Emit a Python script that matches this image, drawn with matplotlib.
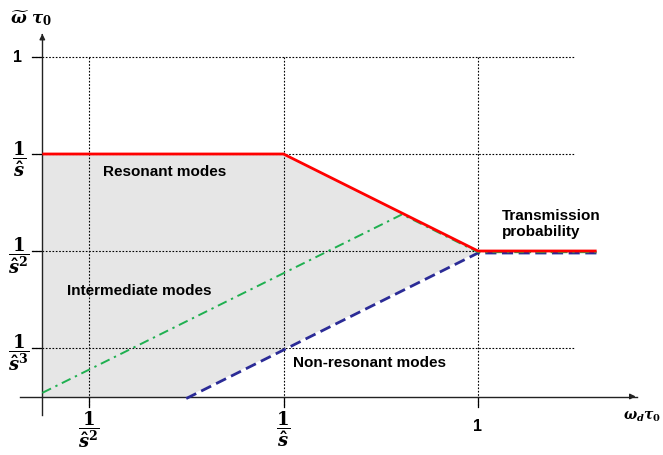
import numpy as np
import matplotlib
matplotlib.use("Agg")
import matplotlib.pyplot as plt
import matplotlib.transforms as mtransforms

plt.rcParams['mathtext.fontset'] = 'custom'
plt.rcParams['mathtext.rm'] = 'DejaVu Serif:bold'
plt.rcParams['mathtext.it'] = 'DejaVu Serif:bold:italic'
plt.rcParams['mathtext.bf'] = 'DejaVu Serif:bold'
plt.rcParams['font.family'] = ['Liberation Sans', 'DejaVu Sans']

# ---- data (log_s units: 1 -> 0, 1/s -> -1, 1/s^2 -> -2, ...) ----
x_tick_pos = [-2, -1, 0]
x_tick_labels = [r'$\dfrac{1}{\hat{s}^2}$', r'$\dfrac{1}{\hat{s}}$', '1']
y_tick_pos = [-3, -2, -1, 0]
y_tick_labels = [r'$\dfrac{1}{\hat{s}^3}$', r'$\dfrac{1}{\hat{s}^2}$', r'$\dfrac{1}{\hat{s}}$', '1']

red_x = [-2.24, -1.0, 0.0, 0.61]
red_y = [-1.0, -1.0, -2.0, -2.0]
green_x = [-2.24, -0.39, 0.0, 0.61]
green_y = [-3.45, -1.61, -2.0, -2.0]
blue_x = [-1.5, 0.0, 0.61]
blue_y = [-3.5, -2.0, -2.0]

region_labels = ['Resonant modes', 'Intermediate modes', 'Non-resonant modes', 'Transmission\nprobability']
region_x = [-1.928, -2.113, -0.951, 0.123]
region_y = [-1.19, -2.41, -3.15, -1.72]

x_axis_level = -3.5
y_axis_pos = -2.24

# ---- figure ----
fig = plt.figure(figsize=(6.63, 4.55), dpi=100)
ax = fig.add_axes([0, 0, 1, 1])
ax.set_xlim(-478 / 194.5, (663 - 478) / 194.5)
ax.set_ylim(-(455 - 57) / 97, 57 / 97)
ax.axis('off')

# gray region
xs = np.linspace(y_axis_pos, 0, 400)
top = np.interp(xs, red_x, red_y)
bot = np.maximum(np.interp(xs, blue_x, blue_y, left=x_axis_level), x_axis_level)
ax.fill_between(xs, bot, top, color='#e6e6e6', lw=0, zorder=1)

# grid lines (dotted)
for yp in y_tick_pos:
    ax.plot([-2.293, 0.499], [yp, yp], color='black', lw=0.8, ls=(0, (1.5, 1.5)), zorder=2)
    ax.plot([-2.293, y_axis_pos], [yp, yp], color='black', lw=0.9, zorder=2)
for xp in x_tick_pos:
    ax.plot([xp, xp], [0, -3.608], color='black', lw=0.8, ls=(0, (1.5, 1.5)), zorder=2)
    ax.plot([xp, xp], [x_axis_level, -3.608], color='black', lw=0.9, zorder=2)

# axes with arrows
ax.plot([-2.355, 0.82], [x_axis_level, x_axis_level], color='#222222', lw=1.0, zorder=3)
ax.annotate('', xy=(0.825, x_axis_level), xytext=(0.78, x_axis_level),
            arrowprops=dict(arrowstyle='-|>', color='#222222', lw=1.0, mutation_scale=8))
ax.plot([y_axis_pos, y_axis_pos], [-3.69, 0.22], color='#222222', lw=1.0, zorder=3)
ax.annotate('', xy=(y_axis_pos, 0.268), xytext=(y_axis_pos, 0.2),
            arrowprops=dict(arrowstyle='-|>', color='#222222', lw=1.0, mutation_scale=8))

# curves
off_g = mtransforms.offset_copy(ax.transData, fig=fig, x=0, y=-1.2, units='dots')
off_b = mtransforms.offset_copy(ax.transData, fig=fig, x=0, y=-2.0, units='dots')
ax.plot(blue_x, blue_y, color='#2b2b96', lw=2.0, ls=(0, (4, 2)), transform=off_b, zorder=4)
ax.plot(green_x, green_y, color='#1fb050', lw=1.4, ls=(0, (5, 2.5, 1.2, 2.5)), transform=off_g, zorder=5)
ax.plot(red_x, red_y, color='#ff0000', lw=2.0, zorder=6, solid_capstyle='butt')

# tick labels
for yp, lab in zip(y_tick_pos, y_tick_labels):
    if lab == '1':
        ax.text(-2.37, yp, lab, fontsize=11.5, fontweight='bold', ha='center', va='center')
    else:
        ax.text(-2.36, yp - 0.05, lab, fontsize=13, ha='center', va='center')
for xp, lab in zip(x_tick_pos, x_tick_labels):
    if lab == '1':
        ax.text(xp, -3.814, lab, fontsize=11.5, fontweight='bold', ha='center', va='center')
    else:
        ax.text(xp, -3.84, lab, fontsize=13, ha='center', va='center')

# axis labels
ax.text(-2.406, 0.40, r'$\widetilde{\omega}\ \tau_0$', fontsize=12, ha='left', va='center')
ax.text(0.745, -3.711, r'$\omega_d\tau_0$', fontsize=10, ha='left', va='center')

# region labels
for lab, rx, ry in zip(region_labels, region_x, region_y):
    ax.text(rx, ry, lab, fontsize=11, fontweight='bold', ha='left', va='center', linespacing=1.15)

fig.savefig('out.png', dpi=100)
